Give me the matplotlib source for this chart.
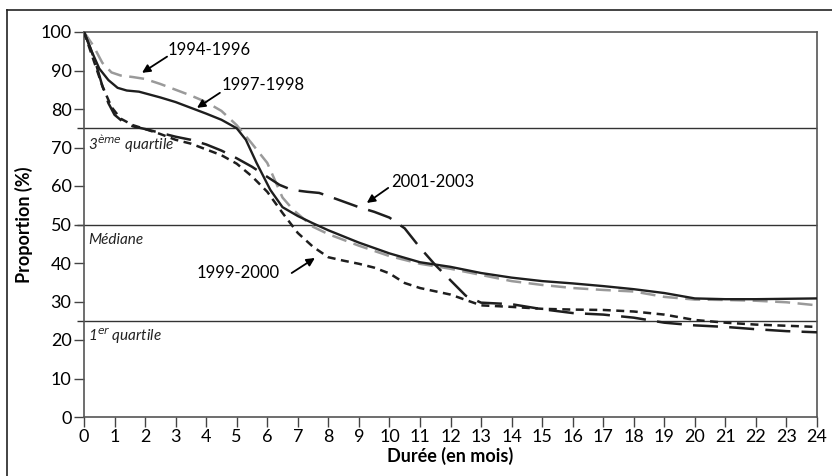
import matplotlib.pyplot as plt
from matplotlib.lines import Line2D

plt.rcParams['font.family'] = ['Lato', 'DejaVu Sans']

# durée en mois et proportion (%) pour chaque cohorte
mois_9496 = [0, 0.3, 0.6, 0.9, 1.2, 1.6, 2, 2.5, 3, 3.5, 4, 4.5, 5, 5.5, 6, 6.5, 6.85, 7.5, 8, 9, 10, 11, 12,
             13, 14, 15, 16, 17, 18, 19, 20, 21, 22, 23, 24]
prop_9496 = [100, 96.5, 92, 89.5, 88.7, 88.3, 87.8, 86.5, 85, 83.5, 81.8, 79.5, 75.8, 71, 66, 57, 53.8, 49.4, 47.5,
             44.5, 41.8, 39.8, 38.5, 36.9, 35.3, 34.3, 33.5, 33, 32.6, 31.2, 30.5, 30.4, 30.2, 29.8, 29]

mois_9798 = [0, 0.25, 0.5, 0.8, 1.1, 1.4, 1.8, 2.5, 3, 3.5, 4, 4.5, 5, 5.3, 5.65, 6.1, 6.5, 7, 7.5, 8, 9, 10,
             11, 12, 13, 14, 15, 16, 17, 18, 19, 20, 21, 22, 23, 24]
prop_9798 = [100, 95, 90.5, 87.5, 85.5, 84.8, 84.5, 83, 81.8, 80.3, 78.8, 77.2, 75, 72, 66, 59, 54.5, 52.2,
             50.3, 48.5, 45.3, 42.5, 40.2, 39, 37.4, 36.2, 35.3, 34.7, 34, 33.2, 32.2, 30.8, 30.6, 30.6, 30.7,
             30.8]

mois_9900 = [0, 0.3, 0.6, 0.9, 1.2, 1.6, 2, 2.5, 3, 3.5, 4, 4.5, 5, 5.5, 6, 6.5, 7, 7.5, 8, 8.5, 9, 9.5, 10,
             10.5, 11, 12, 13, 14, 15, 16, 17, 18, 19, 20, 21, 22, 23, 24]
prop_9900 = [100, 93, 86, 80.5, 77.5, 75.8, 74.8, 73.5, 72, 71, 69.5, 68, 65.8, 62.5, 58.5, 53, 47.8, 44.2,
             41.5, 40.6, 39.8, 38.8, 37.3, 34.8, 33.5, 31.8, 29, 28.6, 28.1, 27.9, 27.8, 27.4, 26.6, 25.2, 24.5,
             24, 23.7, 23.4]

mois_0103 = [0, 0.2, 0.4, 0.6, 0.8, 1, 1.3, 1.6, 2, 2.5, 3, 3.5, 4, 4.5, 5, 5.5, 5.9, 6.4, 6.8, 7.3, 7.7, 8.2,
             9, 9.5, 10, 10.5, 11, 11.5, 12, 12.5, 13, 14, 15, 16, 17, 18, 19, 20, 21, 22, 23, 24]
prop_0103 = [100, 96, 91.5, 86, 81.5, 78.5, 76.5, 75.5, 74.8, 73.8, 72.8, 72, 70.8, 69.2, 67.2, 65, 62.9, 60.3,
             59, 58.5, 58.2, 56.8, 54.5, 53.3, 51.8, 49, 44, 39.5, 35.5, 31.5, 29.7, 29.3, 28, 27, 26.6, 25.8,
             24.5, 23.8, 23.4, 22.8, 22.3, 22]

quartiles = [75, 50, 25]
quartile_labels = ['3$^{ème}$ quartile', 'Médiane', '1$^{er}$ quartile']

fig = plt.figure(figsize=(8.32, 4.76), dpi=100)
ax = fig.add_axes([84 / 832, 1 - 417 / 476, (817 - 84) / 832, (417 - 32) / 476])

# cadre extérieur (haut et gauche)
fig.add_artist(Line2D([7 / 832, 7 / 832], [0, 1 - 10 / 476], color='#222222', lw=1.2))
fig.add_artist(Line2D([7 / 832, 1], [1 - 10 / 476, 1 - 10 / 476], color='#222222', lw=1.2))

for q in quartiles:
    ax.hlines(q, -0.23, 24, color='#333333', lw=1, clip_on=False, zorder=1)

ax.plot(mois_9496, prop_9496, color='#9a9a9a', lw=1.8, dashes=(6, 3), zorder=3)
ax.plot(mois_9798, prop_9798, color='#1e1e1e', lw=1.7, zorder=4)
ax.plot(mois_9900, prop_9900, color='#1e1e1e', lw=1.8, dashes=(3.2, 2.2), zorder=3)
ax.plot(mois_0103, prop_0103, color='#1e1e1e', lw=1.8, dashes=(10, 4.5), zorder=3)

arrow = dict(arrowstyle='-|>', color='black', lw=1.3, mutation_scale=12, shrinkA=0, shrinkB=0)
ax.annotate('', xy=(1.9, 89.4), xytext=(2.72, 93.6), arrowprops=arrow)
ax.text(2.75, 95.3, '1994-1996', fontsize=12, va='center')
ax.annotate('', xy=(3.7, 80.3), xytext=(4.45, 84.2), arrowprops=arrow)
ax.text(4.5, 86.2, '1997-1998', fontsize=12, va='center')
ax.annotate('', xy=(9.26, 55.6), xytext=(9.96, 59.5), arrowprops=arrow)
ax.text(10.05, 61, '2001-2003', fontsize=12, va='center')
ax.annotate('', xy=(7.56, 41.3), xytext=(6.8, 37.4), arrowprops=arrow)
ax.text(3.7, 37.4, '1999-2000', fontsize=12, va='center')

for q, lab in zip(quartiles, quartile_labels):
    ax.text(0.13, q - 4, lab, fontsize=11, style='italic', va='center', color='#222222')

ax.set_xlim(0, 24)
ax.set_ylim(0, 100)
ax.set_xticks(range(0, 25))
ax.set_yticks(range(0, 101, 10))
ax.tick_params(direction='out', length=7, width=1, color='#444444', labelsize=13, pad=2)
for s in ax.spines.values():
    s.set_color('#555555')
    s.set_linewidth(1.2)

ax.set_xlabel('Durée (en mois)', fontsize=13, fontweight='bold', labelpad=1)
ax.set_ylabel('Proportion (%)', fontsize=13, fontweight='bold', labelpad=5)

fig.savefig('out.png', dpi=100)
